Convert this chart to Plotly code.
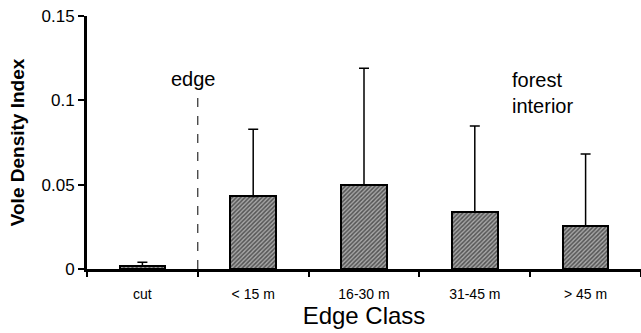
import plotly.graph_objects as go

categories = ["cut", "< 15 m", "16-30 m", "31-45 m", "> 45 m"]
means = [0.002, 0.043, 0.050, 0.034, 0.0255]
upper = [0.004, 0.0828, 0.119, 0.0848, 0.0682]
y_ticks = [0, 0.05, 0.1, 0.15]
y_tick_labels = ["0", "0.05", "0.1", "0.15"]

FONT = "Liberation Sans, Arial, Helvetica, sans-serif"
xpos = list(range(len(categories)))
err_plus = [u - m for u, m in zip(upper, means)]

fig = go.Figure()
fig.add_trace(go.Bar(
    x=xpos, y=means, width=0.41,
    marker=dict(color="white", line=dict(color="black", width=2),
                pattern=dict(shape="/", fgcolor="black", bgcolor="#a8a8a8", size=3, solidity=0.5)),
    error_y=dict(type="data", symmetric=False, array=err_plus, arrayminus=[0]*len(means),
                 color="black", thickness=1.5, width=5),
    showlegend=False,
))

# dashed edge line at the boundary between cut and < 15 m
fig.add_shape(type="line", x0=0.5, x1=0.5, y0=0, y1=0.103, xref="x", yref="y",
              line=dict(color="black", width=1, dash="dash"))

fig.add_annotation(x=0.5, y=0.1125, text="edge", showarrow=False, xref="x", yref="y",
                   xshift=-4, yanchor="middle", font=dict(family=FONT, size=20, color="black"))
fig.add_annotation(x=3.32, y=0.1043, text="forest<br>interior", showarrow=False, xref="x", yref="y",
                   xanchor="left", yanchor="middle", align="left",
                   font=dict(family=FONT, size=20, color="black"))

fig.update_layout(
    width=641, height=333,
    margin=dict(l=87, r=0, t=16, b=64),
    plot_bgcolor="white", paper_bgcolor="white",
    font=dict(family=FONT, color="black"),
    bargap=0,
    xaxis=dict(
        range=[-0.5, 4.5], tickmode="array", tickvals=xpos, ticktext=categories,
        ticks="outside", ticklen=10, tickcolor="rgba(0,0,0,0)", showgrid=False, zeroline=False,
        showline=True, linecolor="black", linewidth=3, automargin=False,
        tickfont=dict(size=14, family=FONT),
        minor=dict(tickmode="linear", tick0=-0.5, dtick=1, ticks="outside",
                   ticklen=5, tickwidth=2, tickcolor="black", showgrid=False),
        title=dict(text="Edge Class", font=dict(size=24, family=FONT), standoff=6),
    ),
    yaxis=dict(
        range=[0, 0.15], tickmode="array", tickvals=y_ticks, ticktext=y_tick_labels,
        ticks="outside", ticklen=6, tickwidth=2, tickcolor="black",
        showgrid=False, zeroline=False, automargin=False,
        showline=True, linecolor="black", linewidth=3,
        tickfont=dict(size=17, family=FONT),
        title=dict(text="<b>Vole Density Index</b>", font=dict(size=19, family=FONT), standoff=12),
    ),
)

fig.write_html("out.html", config={"displayModeBar": False},
               post_script="document.body.style.margin='0';document.body.style.overflow='hidden';")
